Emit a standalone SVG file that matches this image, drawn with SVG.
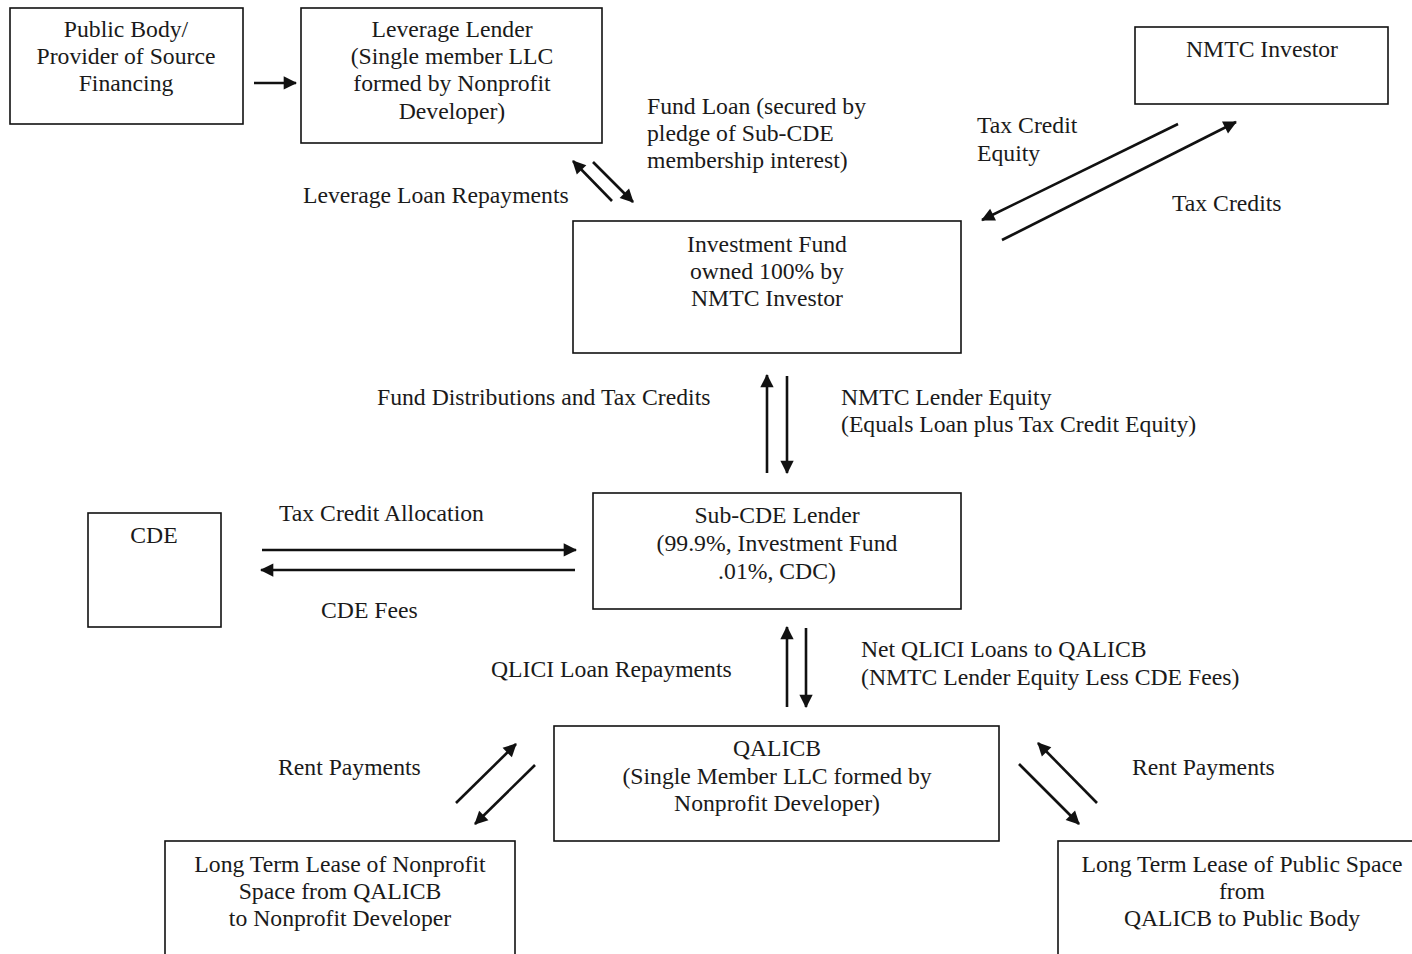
<svg xmlns="http://www.w3.org/2000/svg" width="1412" height="954" viewBox="0 0 1412 954">
<style>
text{font-family:"Liberation Serif","Times New Roman",serif;font-size:23.7px;fill:#1a1a1a}
.c{text-anchor:middle}
.box{fill:#fff;stroke:#111;stroke-width:1.6}
.ar{stroke:#111;stroke-width:2.6;fill:none;marker-end:url(#ah)}
</style>
<defs>
<marker id="ah" viewBox="0 0 10 10" refX="9" refY="5" markerWidth="7" markerHeight="7" markerUnits="userSpaceOnUse" orient="auto" style="overflow:visible">
<path d="M0,0 L10,5 L0,10 z" fill="#111" transform="scale(1.9) translate(-4.5,-2.4)"/>
</marker>
</defs>
<rect width="1412" height="954" fill="#fff"/>
<g id="public-body"><rect class="box" x="10" y="8" width="233" height="116"/>
<text class="c" x="126" y="37">Public Body/</text><text class="c" x="126" y="64">Provider of Source</text><text class="c" x="126" y="91">Financing</text></g>
<g id="leverage-lender"><rect class="box" x="301" y="8" width="301" height="135"/>
<text class="c" x="452" y="37">Leverage Lender</text><text class="c" x="452" y="64">(Single member LLC</text><text class="c" x="452" y="91">formed by Nonprofit</text><text class="c" x="452" y="119">Developer)</text></g>
<g id="nmtc-investor"><rect class="box" x="1135" y="27" width="253" height="77"/>
<text class="c" x="1262" y="57">NMTC Investor</text></g>
<g id="investment-fund"><rect class="box" x="573" y="221" width="388" height="132"/>
<text class="c" x="767" y="252">Investment Fund</text><text class="c" x="767" y="279">owned 100% by</text><text class="c" x="767" y="306">NMTC Investor</text></g>
<g id="cde"><rect class="box" x="88" y="513" width="133" height="114"/>
<text class="c" x="154" y="543">CDE</text></g>
<g id="sub-cde"><rect class="box" x="593" y="493" width="368" height="116"/>
<text class="c" x="777" y="523">Sub-CDE Lender</text><text class="c" x="777" y="551">(99.9%, Investment Fund</text><text class="c" x="777" y="579">.01%, CDC)</text></g>
<g id="qalicb"><rect class="box" x="554" y="726" width="445" height="115"/>
<text class="c" x="777" y="756">QALICB</text><text class="c" x="777" y="784">(Single Member LLC formed by</text><text class="c" x="777" y="811">Nonprofit Developer)</text></g>
<g id="lease-nonprofit"><rect class="box" x="165" y="841" width="350" height="130"/>
<text class="c" x="340" y="872">Long Term Lease of Nonprofit</text><text class="c" x="340" y="899">Space from QALICB</text><text class="c" x="340" y="926">to Nonprofit Developer</text></g>
<g id="lease-public"><rect class="box" x="1058" y="841" width="370" height="130"/>
<text class="c" x="1242" y="872">Long Term Lease of Public Space</text><text class="c" x="1242" y="899">from</text><text class="c" x="1242" y="926">QALICB to Public Body</text></g>
<g id="connectors">
<line class="ar" x1="254" y1="83" x2="296" y2="83"/>
<line class="ar" x1="612" y1="201" x2="573" y2="161"/>
<line class="ar" x1="593" y1="162" x2="633" y2="202"/>
<line class="ar" x1="1178" y1="124" x2="982" y2="220"/>
<line class="ar" x1="1002" y1="240" x2="1236" y2="122"/>
<line class="ar" x1="767" y1="473" x2="767" y2="375"/>
<line class="ar" x1="787" y1="376" x2="787" y2="473"/>
<line class="ar" x1="262" y1="550" x2="576" y2="550"/>
<line class="ar" x1="575" y1="570" x2="261" y2="570"/>
<line class="ar" x1="787" y1="707" x2="787" y2="627"/>
<line class="ar" x1="806" y1="628" x2="806" y2="707"/>
<line class="ar" x1="456" y1="803" x2="516" y2="744"/>
<line class="ar" x1="535" y1="765" x2="475" y2="824"/>
<line class="ar" x1="1097" y1="803" x2="1038" y2="743"/>
<line class="ar" x1="1019" y1="764" x2="1079" y2="824"/>
</g>
<g id="labels">
<text x="647" y="114">Fund Loan (secured by</text><text x="647" y="141">pledge of Sub-CDE</text><text x="647" y="168">membership interest)</text>
<text x="303" y="203">Leverage Loan Repayments</text>
<text x="977" y="133">Tax Credit</text><text x="977" y="161">Equity</text>
<text x="1172" y="211">Tax Credits</text>
<text x="377" y="405">Fund Distributions and Tax Credits</text>
<text x="841" y="405">NMTC Lender Equity</text><text x="841" y="432">(Equals Loan plus Tax Credit Equity)</text>
<text x="279" y="521">Tax Credit Allocation</text>
<text x="321" y="618">CDE Fees</text>
<text x="861" y="657">Net QLICI Loans to QALICB</text><text x="861" y="685">(NMTC Lender Equity Less CDE Fees)</text>
<text x="491" y="677">QLICI Loan Repayments</text>
<text x="278" y="775">Rent Payments</text>
<text x="1132" y="775">Rent Payments</text>
</g>
</svg>
